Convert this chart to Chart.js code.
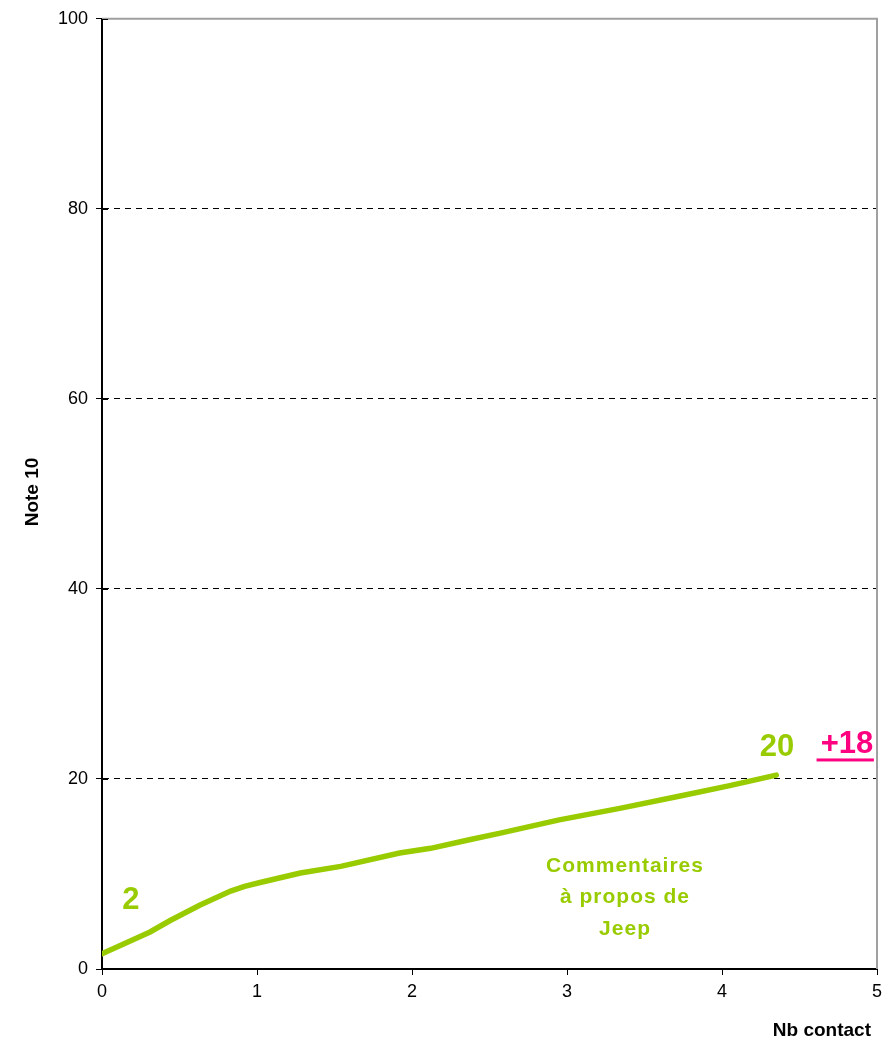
<!DOCTYPE html>
<html>
<head>
<meta charset="utf-8">
<script src="https://cdn.jsdelivr.net/npm/chart.js@4.4.1/dist/chart.umd.min.js"></script>
<style>
  html, body { margin: 0; padding: 0; background: #fff; }
  #wrap { width: 896px; height: 1041px; }
</style>
</head>
<body>
<div id="wrap"><canvas id="chart"></canvas></div>
<script>
// curve
const contactX = [0, 0.15, 0.31, 0.44, 0.63, 0.83, 0.92, 1.02, 1.28, 1.54, 1.92, 2.12, 2.37, 2.57, 2.95, 3.34, 3.73, 4.05, 4.35];
const noteY = [1.6, 2.7, 3.9, 5.1, 6.7, 8.2, 8.7, 9.1, 10.1, 10.8, 12.2, 12.7, 13.6, 14.3, 15.7, 16.9, 18.2, 19.3, 20.4];
const yTicks = [0, 20, 40, 60, 80, 100];
const xTicks = [0, 1, 2, 3, 4, 5];
const startLabel = '2';
const endLabel = '20';
const deltaLabel = '+18';
const seriesName = ['Commentaires', 'à propos de', 'Jeep'];

const GREEN = '#99CC00';
const PINK = '#FF0080';
const FONT = '"Liberation Sans", Arial, sans-serif';

const pts = contactX.map((x, i) => ({ x, y: noteY[i] }));

const labelsPlugin = {
  id: 'labels',
  afterDraw(chart) {
    const { ctx, chartArea: a, scales: { x, y } } = chart;
    ctx.save();
    // grey frame on top and right
    ctx.strokeStyle = '#a0a0a0';
    ctx.lineWidth = 2;
    ctx.beginPath();
    ctx.moveTo(a.left, a.top);
    ctx.lineTo(a.right, a.top);
    ctx.lineTo(a.right, a.bottom);
    ctx.stroke();

    // small tick stubs inside the axis, as in the original
    ctx.strokeStyle = '#000';
    ctx.lineWidth = 1;
    yTicks.slice(1).forEach((v) => {
      const py = Math.round(y.getPixelForValue(v)) + 0.5;
      ctx.beginPath();
      ctx.moveTo(a.left, py);
      ctx.lineTo(a.left + 6, py);
      ctx.stroke();
    });

    ctx.textAlign = 'center';
    ctx.textBaseline = 'middle';
    ctx.fillStyle = GREEN;
    ctx.font = 'bold 31px ' + FONT;
    ctx.fillText(startLabel, x.getPixelForValue(0.187), y.getPixelForValue(7.25));
    ctx.fillText(endLabel, x.getPixelForValue(4.355), y.getPixelForValue(23.3));

    ctx.fillStyle = PINK;
    ctx.fillText(deltaLabel, x.getPixelForValue(4.806), y.getPixelForValue(23.6));
    ctx.fillRect(x.getPixelForValue(4.61), y.getPixelForValue(22.0) - 1.5, x.getPixelForValue(4.98) - x.getPixelForValue(4.61), 3);

    ctx.fillStyle = GREEN;
    ctx.font = 'bold 21px ' + FONT;
    ctx.letterSpacing = '1px';
    const cx = x.getPixelForValue(3.368);
    const rows = [10.8, 7.55, 4.2];
    seriesName.forEach((t, i) => ctx.fillText(t, cx + 1, y.getPixelForValue(rows[i])));
    ctx.letterSpacing = '0px';

    // axis titles
    ctx.fillStyle = '#000';
    ctx.font = 'bold 19px ' + FONT;
    ctx.textAlign = 'right';
    ctx.fillText('Nb contact', 871, 1031);
    ctx.translate(33, 492);
    ctx.rotate(-Math.PI / 2);
    ctx.textAlign = 'center';
    ctx.fillText('Note 10', 0, 0);
    ctx.restore();
  },
};

new Chart(document.getElementById('chart'), {
  type: 'scatter',
  data: {
    datasets: [{
      data: pts,
      showLine: true,
      borderColor: GREEN,
      borderWidth: 5.5,
      pointRadius: 0,
      tension: 0,
      borderCapStyle: 'round',
    }],
  },
  options: {
    responsive: true,
    maintainAspectRatio: false,
    animation: false,
    layout: { padding: { top: 17, right: 19, left: 0, bottom: 0 } },
    plugins: { legend: { display: false }, tooltip: { enabled: false } },
    scales: {
      x: {
        type: 'linear',
        min: 0,
        max: 5,
        afterBuildTicks: (s) => { s.ticks = xTicks.map((v) => ({ value: v })); },
        afterFit: (s) => { s.height = 72; },
        ticks: { color: '#000', font: { family: FONT, size: 18 }, padding: 6 },
        grid: { drawOnChartArea: false, color: '#000', tickLength: 6, tickColor: '#000' },
        border: { color: '#000', width: 2 },
      },
      y: {
        min: 0,
        max: 100,
        afterBuildTicks: (s) => { s.ticks = yTicks.map((v) => ({ value: v })); },
        afterFit: (s) => { s.width = 102; },
        ticks: { color: '#000', font: { family: FONT, size: 18 }, padding: 8 },
        grid: {
          color: (c) => (c.tick && (c.tick.value === 0 || c.tick.value === 100) ? 'rgba(0,0,0,0)' : '#000'),
          tickColor: '#000',
          tickLength: 6,
          lineWidth: 1,
        },
        border: { color: '#000', width: 2, dash: [6, 5] },
      },
    },
  },
  plugins: [labelsPlugin],
});
</script>
</body>
</html>
